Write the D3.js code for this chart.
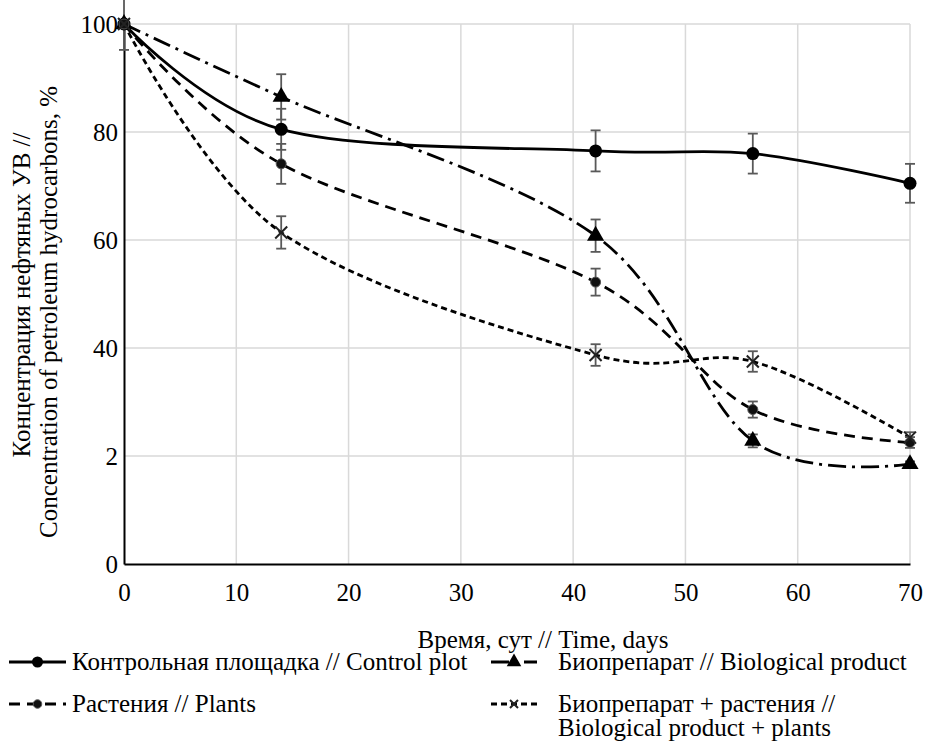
<!DOCTYPE html>
<html><head><meta charset="utf-8">
<script src="https://cdn.jsdelivr.net/npm/d3@7"></script>
<style>
body{margin:0;background:#fff;}
text{font-family:'Liberation Serif', serif !important;}
</style></head>
<body><svg id="chart" width="936" height="742"></svg>
<script>
// ---- data ----
const days = [0, 14, 42, 56, 70];
const control = [100, 80.5, 76.5, 76.0, 70.5];
const controlErr = [4.8, 3.8, 3.8, 3.7, 3.6];
const bio = [100, 86.5, 60.8, 22.8, 18.5];
const bioErr = [0, 4.2, 3.0, 1.2, 0.5];
const plants = [100, 74.1, 52.2, 28.6, 22.5];
const plantsErr = [0, 3.7, 2.5, 1.5, 1.0];
const bioPlants = [100, 61.4, 38.7, 37.5, 23.4];
const bioPlantsErr = [0, 3.0, 2.0, 1.9, 1.0];
const xTicks = [0, 10, 20, 30, 40, 50, 60, 70];
const yTicks = [0, 20, 40, 60, 80, 100];
const yTickLabels = ["0", "2", "40", "60", "80", "100"];
const seriesNames = ["Контрольная площадка //  Control plot", "Биопрепарат //  Biological product", "Растения //  Plants", ["Биопрепарат + растения //", "Biological product + plants"]];
const xTitle = "Время, сут //  Time, days";
const yTitle = ["Концентрация нефтяных УВ //", "Concentration of petroleum hydrocarbons, %"];

// ---- layout ----
const FONT = "Liberation Serif";
const svg = d3.select("#chart");
svg.append("rect").attr("width", 936).attr("height", 742).attr("fill", "#fff");
const L = 124, R = 910, T = 24, B = 564;
const x = d3.scaleLinear().domain([0, 70]).range([L, R]);
const y = d3.scaleLinear().domain([0, 100]).range([B, T]);
const FS = 25;

function addText(g, t) {
  return g.append("text").attr("font-family", FONT).attr("font-size", FS).attr("fill", "#000").text(t);
}

// gridlines
const grid = svg.append("g");
grid.selectAll(".gx").data(xTicks.filter(d => d > 0)).join("line")
  .attr("x1", d => x(d)).attr("x2", d => x(d)).attr("y1", T).attr("y2", B)
  .attr("stroke", "#d9d9d9").attr("stroke-width", 1.5);
grid.selectAll(".gy").data(yTicks.filter(d => d > 0)).join("line")
  .attr("x1", L).attr("x2", R).attr("y1", d => y(d)).attr("y2", d => y(d))
  .attr("stroke", "#d9d9d9").attr("stroke-width", 1.5);

// axes
const xAxis = svg.append("g").attr("transform", `translate(0,${B})`)
  .call(d3.axisBottom(x).tickValues(xTicks).tickSize(0).tickPadding(37).tickFormat(d3.format("d")));
xAxis.attr("font-family", FONT).attr("font-size", FS);
xAxis.select(".domain").attr("stroke", "#000").attr("stroke-width", 2);
xAxis.selectAll("text").attr("font-family", FONT).attr("font-size", FS).attr("fill", "#000").attr("dy", "0");
const yAxis = svg.append("g").attr("transform", `translate(${L},0)`)
  .call(d3.axisLeft(y).tickValues(yTicks).tickSize(0).tickPadding(6).tickFormat((d, i) => yTickLabels[i]));
yAxis.attr("font-family", FONT).attr("font-size", FS);
yAxis.select(".domain").attr("stroke", "#000").attr("stroke-width", 2);
yAxis.selectAll("text").attr("font-family", FONT).attr("font-size", FS).attr("fill", "#000").attr("dy", "0.33em");

// axis titles
addText(svg, xTitle).attr("x", x(35) + 26).attr("y", 648).attr("text-anchor", "middle");
addText(svg, yTitle[0]).attr("transform", "translate(30,295) rotate(-90)").attr("text-anchor", "middle");
addText(svg, yTitle[1]).attr("transform", "translate(57,312) rotate(-90)").attr("text-anchor", "middle");

// series definitions
const series = [
  {vals: control, err: controlErr, dash: null, marker: "circle", r: 6.5},
  {vals: bio, err: bioErr, dash: "18,6,3,6", marker: "triangle", r: 7},
  {vals: plants, err: plantsErr, dash: "11,7", marker: "dot", r: 5},
  {vals: bioPlants, err: bioPlantsErr, dash: "6,4", marker: "x", r: 6}
];

const line = d3.line().x(d => x(d[0])).y(d => y(d[1])).curve(d3.curveCardinal.tension(0));

function drawMarker(g, type, cx, cy, r) {
  if (type === "circle") g.append("circle").attr("cx", cx).attr("cy", cy).attr("r", r).attr("fill", "#000");
  else if (type === "dot") g.append("circle").attr("cx", cx).attr("cy", cy).attr("r", r).attr("fill", "#111").attr("stroke", "#555").attr("stroke-width", 1);
  else if (type === "triangle") g.append("path").attr("d", d3.symbol().type(d3.symbolTriangle).size(r * r * 2.6)()).attr("transform", `translate(${cx},${cy})`).attr("fill", "#000");
  else if (type === "x") g.append("path").attr("d", `M${cx - r},${cy - r}L${cx + r},${cy + r}M${cx - r},${cy + r}L${cx + r},${cy - r}`).attr("stroke", "#222").attr("stroke-width", 2);
}

// lines
series.forEach(s => {
  svg.append("path").datum(days.map((d, i) => [d, s.vals[i]]))
    .attr("d", line).attr("fill", "none").attr("stroke", "#000")
    .attr("stroke-width", 2.8).attr("stroke-dasharray", s.dash);
});
// error bars
series.forEach(s => {
  const g = svg.append("g").attr("stroke", "#595959").attr("stroke-width", 1.8);
  days.forEach((d, i) => {
    if (!s.err[i]) return;
    const cx = x(d), y1 = y(s.vals[i] + s.err[i]), y2 = y(s.vals[i] - s.err[i]);
    g.append("line").attr("x1", cx).attr("x2", cx).attr("y1", y1).attr("y2", y2);
    g.append("line").attr("x1", cx - 5).attr("x2", cx + 5).attr("y1", y1).attr("y2", y1);
    g.append("line").attr("x1", cx - 5).attr("x2", cx + 5).attr("y1", y2).attr("y2", y2);
  });
});
// markers
series.forEach(s => {
  const g = svg.append("g");
  days.forEach((d, i) => drawMarker(g, s.marker, x(d), y(s.vals[i]), s.r));
});

// legend
const legendPos = [[9, 662], [491, 662], [9, 704], [491, 704]];
series.forEach((s, i) => {
  const [lx, ly] = legendPos[i];
  const g = svg.append("g");
  const w = i % 2 === 0 ? 57 : 46;
  g.append("line").attr("x1", lx).attr("x2", lx + w).attr("y1", ly).attr("y2", ly)
    .attr("stroke", "#000").attr("stroke-width", 2.8).attr("stroke-dasharray", s.dash);
  drawMarker(g, s.marker, lx + w / 2, ly, s.marker === "x" ? 4 : s.r * 0.85);
  const tx = i % 2 === 0 ? 72 : 558;
  const name = seriesNames[i];
  const lines = Array.isArray(name) ? name : [name];
  lines.forEach((n, k) => addText(g, n).attr("x", tx).attr("y", ly + 8 + k * 24));
});
</script></body></html>
